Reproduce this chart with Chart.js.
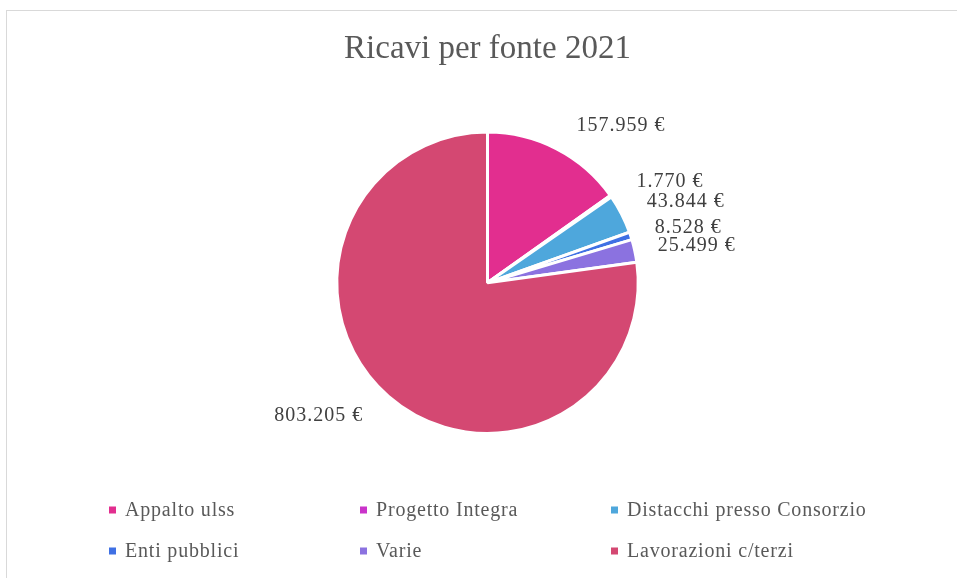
<!DOCTYPE html>
<html lang="it">
<head>
<meta charset="utf-8">
<title>Ricavi per fonte 2021</title>
<script src="https://cdn.jsdelivr.net/npm/chart.js@4.4.1/dist/chart.umd.min.js"></script>
<style>
    html, body { margin: 0; padding: 0; background: #fff; }
    #wrap { position: relative; width: 957px; height: 578px; overflow: hidden; }
    #frame {
        position: absolute; left: 6px; top: 10px; width: 1000px; height: 700px;
        border: 1px solid #d9d9d9; box-sizing: border-box;
    }
    #ricaviChart { position: absolute; left: 0; top: 0; }
</style>
</head>
<body>
<div id="wrap">
    <div id="frame"></div>
    <canvas id="ricaviChart" width="957" height="578"></canvas>
</div>
<script>
const categories = ['Appalto ulss', 'Progetto Integra', 'Distacchi presso Consorzio', 'Enti pubblici', 'Varie', 'Lavorazioni c/terzi'];
const ricavi = [157959, 1770, 43844, 8528, 25499, 803205];
const colori = ['#E22E8F', '#CA33CA', '#4EA7DC', '#3F70E4', '#8B72E0', '#D44872'];

const FONT = '"Liberation Serif", "DejaVu Serif", serif';

const formatEuro = v => v.toLocaleString('it-IT', { useGrouping: 'always' }) + ' €';

// value labels outside the slices, anchored at the mid angle of each arc
const outsideLabels = {
    id: 'outsideLabels',
    afterDatasetsDraw(chart) {
        const ctx = chart.ctx;
        const arcs = chart.getDatasetMeta(0).data;
        ctx.save();
        ctx.font = '20px ' + FONT;
        ctx.letterSpacing = '1px';
        ctx.fillStyle = '#404040';
        ctx.textAlign = 'center';
        ctx.textBaseline = 'middle';
        const clamp = t => Math.max(-1, Math.min(1, t * 2));
        arcs.forEach((arc, i) => {
            const { x, y, startAngle, endAngle, outerRadius } = arc.getProps(['x', 'y', 'startAngle', 'endAngle', 'outerRadius'], true);
            const mid = (startAngle + endAngle) / 2;
            const cos = Math.cos(mid), sin = Math.sin(mid);
            const text = formatEuro(ricavi[i]);
            const w = ctx.measureText(text).width;
            const r = outerRadius + 20;
            const px = x + cos * r;
            const py = y + sin * r;
            const cx = px + clamp(cos) * w / 2 + Math.sign(cos) * 16 * Math.abs(sin);
            const cy = py + sin * 6;
            ctx.fillText(text, cx, cy);
        });
        ctx.restore();
    }
};

// legend laid out as a three-column grid under the pie
const gridLegend = {
    id: 'gridLegend',
    afterDraw(chart) {
        const ctx = chart.ctx;
        const left = 109, colWidth = 251, rowTop = 510, rowGap = 41;
        ctx.save();
        ctx.font = '20px ' + FONT;
        ctx.letterSpacing = '0.8px';
        ctx.textBaseline = 'middle';
        categories.forEach((name, i) => {
            const col = i % 3, row = Math.floor(i / 3);
            const x = left + col * colWidth;
            const y = rowTop + row * rowGap;
            ctx.fillStyle = colori[i];
            ctx.fillRect(x, y - 3.5, 7, 7);
            ctx.fillStyle = '#595959';
            ctx.fillText(name, x + 16, y + 1);
        });
        ctx.restore();
    }
};

new Chart(document.getElementById('ricaviChart'), {
    type: 'pie',
    data: {
        labels: categories,
        datasets: [{
            data: ricavi,
            backgroundColor: colori,
            borderColor: '#ffffff',
            borderWidth: 3
        }]
    },
    options: {
        responsive: false,
        animation: false,
        layout: { padding: { top: 0, bottom: 143, left: 18, right: 0 } },
        plugins: {
            legend: { display: false },
            tooltip: { enabled: false },
            title: {
                display: true,
                text: 'Ricavi per fonte 2021',
                color: '#595959',
                font: { family: FONT, size: 33, weight: 'normal', lineHeight: 1.2 },
                padding: { top: 30, bottom: 61 }
            }
        }
    },
    plugins: [outsideLabels, gridLegend]
});
</script>
</body>
</html>
